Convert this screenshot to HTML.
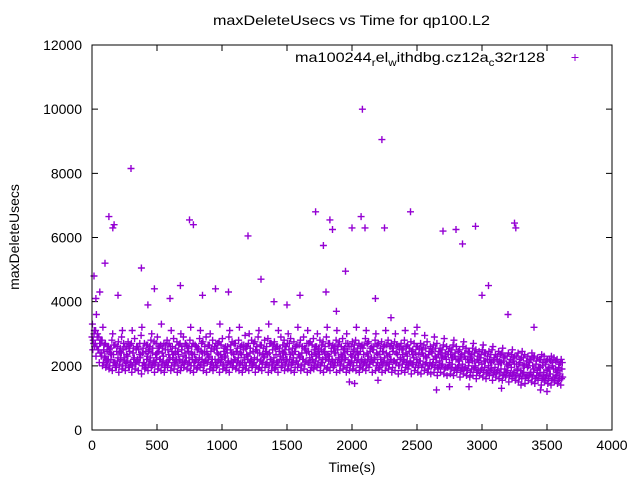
<!DOCTYPE html>
<html><head><meta charset="utf-8"><style>
body{margin:0;background:#fff;}
svg{display:block;font-family:"Liberation Sans",sans-serif;}
</style></head><body>
<svg id="chart" width="640" height="480" xmlns="http://www.w3.org/2000/svg">
<rect width="640" height="480" fill="#fff"/>
<text x="213" y="25" font-size="14" textLength="277" lengthAdjust="spacingAndGlyphs">maxDeleteUsecs vs Time for qp100.L2</text>
<text x="352" y="472" font-size="14" text-anchor="middle">Time(s)</text>
<text transform="translate(19,237) rotate(-90)" font-size="14" text-anchor="middle">maxDeleteUsecs</text>
<g id="axes"></g>
<g id="points"></g>
<g>
<text x="295" y="62" font-size="14" textLength="250" lengthAdjust="spacingAndGlyphs">ma100244<tspan font-size="10" dy="4">r</tspan><tspan dy="-4">el</tspan><tspan font-size="10" dy="4">w</tspan><tspan dy="-4">ithdbg.cz12a</tspan><tspan font-size="10" dy="4">c</tspan><tspan dy="-4">32r128</tspan></text>
<path d="M571.5 57.5h7M575 54v7" stroke="#9400d3" stroke-width="1"/>
</g>
<rect x="92" y="45" width="520" height="385" fill="none" stroke="#000" stroke-width="1"/>
</svg>
<script>
const xTicks=[0,500,1000,1500,2000,2500,3000,3500,4000];
const yTicks=[0,2000,4000,6000,8000,10000,12000];
const tStep=25;
const rowMid=[2900,2700,2500,2400,2300,2200,2350,2100,2250,2400,2150,2300,2050,2250,2200,2350,2100,2300,2250,2150,2400,2200,2300,2100,2250,2350,2200,2150,2300,2250,2100,2350,2200,2250,2400,2150,2300,2200,2100,2350,2250,2300,2150,2400,2200,2250,2350,2100,2300,2200,2250,2400,2150,2300,2350,2200,2250,2100,2300,2400,2200,2350,2250,2150,2300,2200,2400,2250,2100,2300,2350,2200,2250,2300,2150,2400,2200,2300,2250,2100,2300,2250,2350,2200,2150,2300,2250,2200,2350,2100,2250,2300,2200,2150,2350,2250,2200,2300,2100,2250,2200,2150,2300,2250,2100,2200,2250,2150,2300,2200,2100,2250,2200,2150,2050,2200,2100,2150,2000,2100,2050,2150,2000,2100,1950,2050,2100,1900,2000,1950,2050,1900,1850,2000,1950,1800,1900,1850,1950,1800,1850,1750,1900,1800,1750];
const rowHigh=[3300,3100,2900,2800,2700,2600,2800,2650,2750,2900,2600,2750,2700,2850,2600,2950,2700,2650,2800,2750,2900,2650,2700,2800,2600,2850,2750,2700,2900,2650,2800,2700,2600,2850,2750,2900,2650,2800,2700,2750,2850,2600,2900,2750,2700,2800,2650,2950,2700,2800,2750,2900,2650,2800,2850,2700,2750,2600,2900,2800,2700,2850,2750,2650,2800,2900,2700,2750,2850,2600,2800,2750,2900,2700,2650,2800,2750,2850,2700,2600,2750,2800,2700,2650,2850,2750,2600,2800,2700,2750,2650,2800,2700,2750,2600,2700,2800,2650,2750,2700,2600,2700,2650,2750,2600,2650,2700,2550,2650,2600,2550,2650,2600,2500,2600,2550,2450,2550,2500,2450,2500,2400,2450,2500,2350,2450,2400,2300,2400,2350,2300,2400,2250,2350,2300,2200,2300,2250,2200,2300,2200,2150,2250,2200,2100];
const rowLow=[2500,2300,2100,2000,1950,1900,1850,1950,1800,1900,1850,1950,1800,1900,1850,1750,1900,1850,1950,1800,1900,1850,1800,1950,1850,1900,1800,1850,1950,1900,1850,1800,1900,1950,1850,1800,1900,1850,1950,1800,1900,1850,1800,1950,1900,1850,1800,1900,1850,1950,1800,1900,1850,1950,1800,1850,1900,1800,1950,1850,1900,1850,1800,1950,1850,1900,1800,1850,1900,1950,1850,1800,1900,1850,1950,1800,1850,1900,1800,1850,1900,1850,1800,1900,1850,1950,1800,1850,1900,1800,1850,1900,1800,1850,1750,1850,1800,1900,1750,1850,1800,1750,1850,1800,1750,1800,1700,1800,1750,1700,1750,1700,1800,1650,1750,1700,1650,1700,1600,1700,1650,1600,1700,1550,1650,1600,1550,1650,1500,1600,1550,1500,1600,1450,1550,1500,1450,1550,1400,1500,1450,1400,1500,1450,1400];
const rowMix=[2800,3600,2700,3200,2200,2500,3000,2000,2450,3100,2000,2550,3100,2100,2500,3200,2000,2450,3000,2050,2550,3300,2000,2500,3100,2100,2450,3000,2050,2550,3200,2000,2500,3100,2100,2450,3000,2000,2550,3300,2050,2500,3100,2000,2450,3200,2100,2550,3000,2000,2500,3100,2050,2450,3300,2000,2550,3100,2100,2500,3000,2050,2450,3200,2000,2550,3100,2100,2500,3000,2000,2450,3200,2050,2550,3100,2000,2500,3000,2100,2450,3200,2000,2550,3100,2050,2500,3000,2000,2450,3100,2100,2550,3000,2000,2500,3100,2050,2450,3000,2000,2500,2950,2000,2450,2900,1950,2400,2850,1950,2350,2800,1900,2300,2750,1850,2300,2700,1800,2250,2650,1800,2200,2600,1750,2150,2550,1700,2100,2500,1650,2050,2450,1650,2000,2400,1600,1950,2350,1550,1900,2300,1550,1850,2200];
const rowA=[2700,2600,2400,2100,2050,2000,2100,1950,2050,2000,2100,1950,2000,2050,2100,2000,1950,2050,2000,2100,2000,2050,1950,2100,2000,2050,2000,1950,2100,2050,2000,2100,1950,2050,2000,2100,2050,1950,2000,2100,2000,1950,2050,2100,2000,2050,1950,2000,2100,2050,2000,1950,2100,2050,2000,2050,1950,2100,2000,2050,2000,2100,1950,2050,2000,2050,2100,1950,2000,2050,2100,2000,1950,2050,2000,2100,2050,2000,1950,2050,2000,2100,1950,2050,2000,2050,2100,2000,1950,2050,2000,2050,1950,2100,2000,2050,1950,2000,2050,1950,2000,1950,2050,1900,2000,1950,1900,2000,1900,1950,1900,1850,1950,1850,1900,1850,1800,1900,1800,1850,1800,1750,1850,1750,1800,1750,1700,1800,1700,1750,1700,1650,1750,1650,1700,1650,1600,1700,1600,1650,1600,1550,1650,1550,1600];
const rowB=[3000,2900,2700,2500,2450,2400,2350,2450,2400,2500,2350,2450,2400,2500,2350,2400,2450,2500,2400,2350,2450,2400,2500,2350,2450,2400,2350,2500,2400,2450,2400,2350,2500,2450,2400,2350,2450,2500,2400,2350,2450,2400,2500,2350,2450,2400,2500,2350,2400,2450,2500,2400,2350,2450,2400,2500,2350,2450,2400,2350,2500,2400,2450,2350,2400,2500,2450,2350,2400,2450,2500,2400,2350,2450,2400,2500,2350,2400,2450,2350,2500,2400,2450,2350,2400,2450,2500,2400,2350,2450,2400,2350,2450,2400,2500,2350,2400,2450,2350,2400,2350,2400,2300,2350,2400,2300,2350,2250,2300,2350,2250,2300,2200,2250,2300,2200,2250,2150,2200,2250,2150,2200,2100,2150,2200,2100,2150,2050,2100,2150,2050,2100,2000,2050,2100,2000,2050,1950,2000,2050,1950,2000,1900,1950,1900];
const rowC=[3100,3000,2800,2650,2600,2550,2650,2600,2550,2700,2600,2650,2550,2600,2700,2550,2650,2600,2550,2700,2600,2550,2650,2700,2600,2550,2650,2600,2700,2550,2600,2650,2550,2700,2600,2650,2550,2600,2700,2650,2550,2600,2650,2700,2550,2600,2650,2600,2550,2700,2600,2650,2550,2600,2700,2650,2600,2550,2650,2600,2700,2550,2600,2650,2600,2550,2700,2650,2600,2550,2650,2600,2700,2550,2600,2650,2600,2550,2700,2600,2650,2550,2600,2650,2700,2550,2600,2650,2550,2600,2650,2600,2550,2650,2600,2550,2600,2550,2500,2600,2550,2500,2550,2450,2500,2550,2450,2500,2400,2450,2500,2400,2450,2350,2400,2450,2350,2400,2300,2350,2400,2300,2350,2250,2300,2350,2250,2300,2200,2250,2300,2200,2250,2150,2200,2250,2150,2200,2100,2150,2200,2100,2150,2050,2100];
const rowD=[2600,2500,2300,2250,2150,2200,2100,2150,2200,2250,2150,2100,2200,2150,2250,2100,2200,2150,2100,2250,2200,2150,2100,2200,2250,2150,2200,2100,2150,2250,2200,2150,2100,2200,2150,2250,2100,2200,2150,2200,2250,2100,2150,2200,2150,2100,2250,2200,2150,2100,2200,2150,2250,2100,2200,2150,2100,2200,2250,2150,2200,2100,2150,2250,2200,2150,2100,2200,2150,2250,2100,2200,2150,2200,2100,2250,2150,2200,2100,2150,2250,2200,2150,2100,2200,2150,2250,2100,2200,2150,2100,2200,2150,2100,2200,2150,2100,2150,2050,2100,2150,2050,2100,2000,2050,2100,2000,2050,1950,2000,2050,1950,2000,1900,1950,2000,1900,1950,1850,1900,1950,1850,1900,1800,1850,1900,1800,1850,1750,1800,1850,1750,1800,1700,1750,1800,1700,1750,1650,1700,1750,1650,1700,1600,1650];
const outlierT=[15,30,60,100,130,160,170,200,300,380,430,480,600,680,750,780,850,950,1050,1200,1300,1400,1500,1600,1720,1780,1830,1850,1800,1880,1950,2000,2080,2070,2100,2180,2230,2250,2300,2450,2500,2700,2800,2850,2950,3000,3050,3250,3260,3200,3400,2020,1980,2200,2750,2900,3150,3300,3450,3500,2650];
const outlierV=[4800,4100,4300,5200,6650,6300,6400,4200,8150,5050,3900,4400,4100,4500,6550,6400,4200,4400,4300,6050,4700,4000,3900,4200,6800,5750,6550,6250,4300,3700,4950,6300,10000,6650,6300,4100,9050,6300,3500,6800,3200,6200,6250,5800,6350,4200,4500,6450,6300,3600,3200,1450,1500,1550,1350,1350,1300,1400,1250,1200,1250];

const NS="http://www.w3.org/2000/svg";
const X0=92,X1=612,Y0=430,Y1=45;
const xs=v=>X0+(v-0)/4000*(X1-X0);
const ys=v=>Y0-(v-0)/12000*(Y0-Y1);
const axes=document.getElementById('axes');
function mk(tag,attrs,parent){const e=document.createElementNS(NS,tag);for(const k in attrs)e.setAttribute(k,attrs[k]);parent.appendChild(e);return e;}
xTicks.forEach(v=>{
  const x=xs(v);
  const t=mk('path',{d:`M${x} ${Y0}v-6M${x} ${Y1}v6`,stroke:'#000'},axes);
  
  
  const l=mk('text',{x:x,y:Y0+20,'font-size':14,'text-anchor':'middle'},axes);
  l.textContent=v;
  
  
});
yTicks.forEach(v=>{
  const y=ys(v);
  const t=mk('path',{d:`M${X0} ${y}h6M${X1} ${y}h-6`,stroke:'#000'},axes);
  
  
  const l=mk('text',{x:X0-10,y:y+5,'font-size':14,'text-anchor':'end'},axes);
  l.textContent=v;
  
  
});
const pts=document.getElementById('points');
let d='';
function add(t,v){const x=xs(t),y=ys(v);d+=`M${(x-3.5).toFixed(1)} ${y.toFixed(1)}h7M${x.toFixed(1)} ${(y-3.5).toFixed(1)}v7`;}
[rowMid,rowHigh,rowLow,rowMix,rowA,rowB,rowC,rowD].forEach((row,ri)=>{
  row.forEach((v,i)=>{add(i*tStep+ri*3,v);});
});
outlierT.forEach((t,i)=>add(t,outlierV[i]));
const p=mk('path',{d:d,stroke:'#9400d3','stroke-width':1.4,fill:'none'},pts);


</script>
</body></html>
